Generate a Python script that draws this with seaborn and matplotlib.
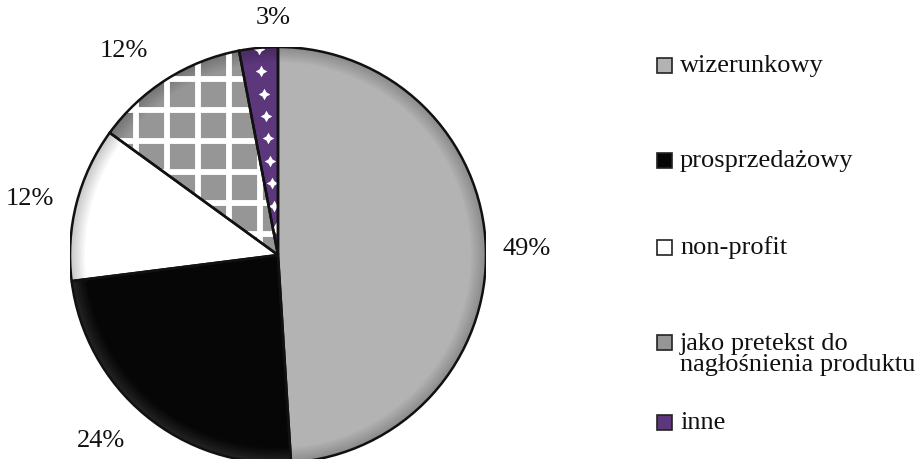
import numpy as np
import matplotlib
matplotlib.use("Agg")
import matplotlib.pyplot as plt
from matplotlib.patches import Wedge, Rectangle
import seaborn as sns

# Data
categories = ["wizerunkowy", "prosprzedażowy", "non-profit",
              "jako pretekst do\nnagłośnienia produktu", "inne"]
shares = [49, 24, 12, 12, 3]
pct_labels = ["49%", "24%", "12%", "12%", "3%"]
face_colors = ["#b3b3b3", "#060606", "#ffffff", "#969696", "#5d377c"]
label_dist = [1.08, 1.155, 1.11, 1.17, 1.15]

sns.set_theme(style="white")
plt.rcParams["font.family"] = ["Liberation Serif", "DejaVu Serif"]

W, H = 922, 460
fig = plt.figure(figsize=(W / 100, H / 100), dpi=100)
fig.patch.set_facecolor("white")

cx, cy, R = 278, 256, 208
ax = fig.add_axes([(cx - R) / W, (H - cy - R) / H, 2 * R / W, 2 * R / H])

wedges, texts = ax.pie(
    shares, colors=face_colors, startangle=90, counterclock=False,
    labels=pct_labels, labeldistance=1.1,
    wedgeprops=dict(edgecolor="none", linewidth=0),
    textprops=dict(fontsize=19, color="#111111"),
)
ax.set_xlim(-1, 1)
ax.set_ylim(-1, 1)
ax.set_aspect("equal")
ax.axis("off")

# percentage labels placed outside each wedge
for w, t, d in zip(wedges, texts, label_dist):
    ang = np.deg2rad((w.theta1 + w.theta2) / 2)
    t.set_position((d * np.cos(ang), d * np.sin(ang)))
    t.set_va("center")
texts[4].set_ha("left")

# bevel shading along the rim of each slice
for w, fc in zip(wedges, face_colors):
    shade = "white" if fc == "#060606" else "black"
    steps = 8
    for k in range(steps):
        r_out = 1.0 - k * 0.009
        a = 0.22 * (1 - k / steps) if shade == "black" else 0.12 * (1 - k / steps)
        ring = Wedge((0, 0), r_out, w.theta1, w.theta2, width=0.009,
                     facecolor=shade, edgecolor="none", alpha=a, zorder=2)
        ax.add_patch(ring)

# white grid inside the checkered slice
grid_w = wedges[3]
step = 0.149
for x0 in np.arange(-0.087, -1.05, -step):
    ln, = ax.plot([x0, x0], [-0.1, 1.05], color="white", lw=4.2,
                  solid_capstyle="butt", zorder=3)
    ln.set_clip_path(grid_w)
for y0 in np.arange(0.404 - 3 * 0.15, 1.05, 0.1485):
    ln, = ax.plot([-1.05, 0.05], [y0, y0], color="white", lw=4.2,
                  solid_capstyle="butt", zorder=3)
    ln.set_clip_path(grid_w)

# white four-point stars inside the narrow slice
star_w = wedges[4]
mid = np.deg2rad((star_w.theta1 + star_w.theta2) / 2)
rs = np.arange(0.995, 0.05, -0.108)
stars = ax.scatter(rs * np.cos(mid) + 0.004, rs * np.sin(mid), marker=(4, 1, 0),
                   s=70, color="white", linewidths=0, zorder=3)
stars.set_clip_path(star_w)

# slice outlines on top
for w in wedges:
    outline = Wedge((0, 0), 1.0, w.theta1, w.theta2, fill=False,
                    edgecolor="#111111", linewidth=1.8, zorder=4)
    ax.add_patch(outline)

# legend
legend_rows = [66, 161, 248, 343, 423]
for name, fc, yc in zip(categories, face_colors, legend_rows):
    sq = 15
    fig.add_artist(Rectangle((657 / W, (H - yc - sq / 2) / H), sq / W, sq / H,
                             transform=fig.transFigure, facecolor=fc,
                             edgecolor="#222222", linewidth=1.2))
    if "\n" in name:
        fig.text(680 / W, (H - yc + 10) / H, name, fontsize=19,
                 color="#111111", ha="left", va="top", linespacing=0.95)
    else:
        fig.text(680 / W, (H - yc) / H, name, fontsize=19, color="#111111",
                 ha="left", va="center")

fig.savefig("out.png", dpi=100, facecolor="white")
